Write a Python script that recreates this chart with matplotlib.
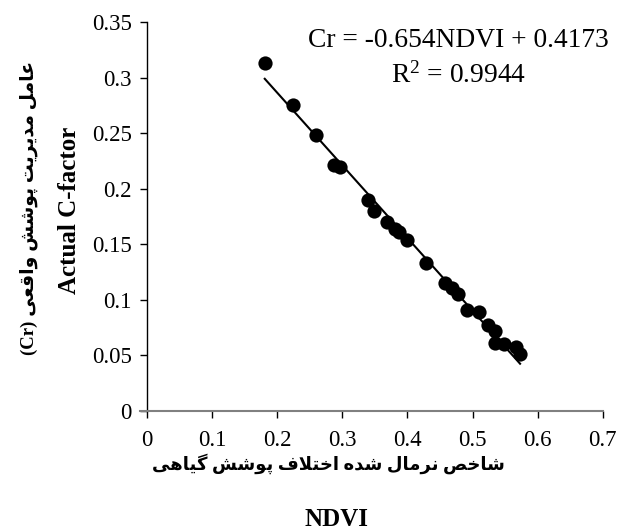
import matplotlib
matplotlib.use("Agg")
import matplotlib.pyplot as plt

# NDVI vs actual C-factor
ndvi = [0.181, 0.224, 0.260, 0.288, 0.297, 0.340, 0.349, 0.368, 0.381, 0.387,
        0.400, 0.428, 0.458, 0.468, 0.477, 0.492, 0.510, 0.524, 0.534, 0.535,
        0.548, 0.566, 0.573]
cr = [0.313, 0.275, 0.248, 0.221, 0.220, 0.190, 0.180, 0.170, 0.164, 0.161,
      0.154, 0.133, 0.115, 0.111, 0.105, 0.091, 0.089, 0.077, 0.072, 0.061,
      0.060, 0.058, 0.051]
slope = -0.654
intercept = 0.4173
r2 = 0.9944

x_ticks = [0, 0.1, 0.2, 0.3, 0.4, 0.5, 0.6, 0.7]
y_ticks = [0, 0.05, 0.1, 0.15, 0.2, 0.25, 0.3, 0.35]

# minimal Persian shaping (matplotlib does not shape Arabic script)
FORMS = {
    'ا': ('\uFE8D', '\uFE8E', None, None),
    'پ': ('\uFB56', '\uFB57', '\uFB58', '\uFB59'),
    'ت': ('\uFE95', '\uFE96', '\uFE97', '\uFE98'),
    'خ': ('\uFEA5', '\uFEA6', '\uFEA7', '\uFEA8'),
    'د': ('\uFEA9', '\uFEAA', None, None),
    'ر': ('\uFEAD', '\uFEAE', None, None),
    'ش': ('\uFEB5', '\uFEB6', '\uFEB7', '\uFEB8'),
    'ص': ('\uFEB9', '\uFEBA', '\uFEBB', '\uFEBC'),
    'ع': ('\uFEC9', '\uFECA', '\uFECB', '\uFECC'),
    'ف': ('\uFED1', '\uFED2', '\uFED3', '\uFED4'),
    'ق': ('\uFED5', '\uFED6', '\uFED7', '\uFED8'),
    'گ': ('\uFB92', '\uFB93', '\uFB94', '\uFB95'),
    'ل': ('\uFEDD', '\uFEDE', '\uFEDF', '\uFEE0'),
    'م': ('\uFEE1', '\uFEE2', '\uFEE3', '\uFEE4'),
    'ن': ('\uFEE5', '\uFEE6', '\uFEE7', '\uFEE8'),
    'ه': ('\uFEE9', '\uFEEA', '\uFEEB', '\uFEEC'),
    'و': ('\uFEED', '\uFEEE', None, None),
    'ی': ('\uFBFC', '\uFBFD', '\uFBFE', '\uFBFF'),
}


def rtl(text):
    out = []
    i = 0
    prev_joins = False
    while i < len(text):
        ch = text[i]
        if ch not in FORMS:
            out.append(ch)
            prev_joins = False
            i += 1
            continue
        if ch == 'ل' and i + 1 < len(text) and text[i + 1] == 'ا':
            out.append('\uFEFC' if prev_joins else '\uFEFB')
            prev_joins = False
            i += 2
            continue
        nxt = text[i + 1] if i + 1 < len(text) else ''
        can_next = FORMS[ch][2] is not None and nxt in FORMS
        iso, fin, ini, med = FORMS[ch]
        if prev_joins and can_next:
            out.append(med)
        elif prev_joins:
            out.append(fin)
        elif can_next:
            out.append(ini)
        else:
            out.append(iso)
        prev_joins = can_next
        i += 1
    return ''.join(reversed(out))


y_fa = rtl('عامل مدیریت پوشش واقعی')
x_fa = rtl('شاخص نرمال شده اختلاف پوشش گیاهی')

plt.rcParams['mathtext.fontset'] = 'custom'
plt.rcParams['mathtext.rm'] = 'Liberation Serif'
plt.rcParams['mathtext.it'] = 'Liberation Serif:italic'
plt.rcParams['mathtext.bf'] = 'Liberation Serif:bold'

serif = ['Liberation Serif', 'DejaVu Sans']

fig = plt.figure(figsize=(6.17, 5.32), dpi=100)
ax = fig.add_axes([0.238, 0.2274, 0.739, 0.7312])

ax.scatter(ndvi, cr, s=105, color='black', zorder=3, linewidths=0)
x0, x1 = min(ndvi), max(ndvi)
ax.plot([x0, x1], [slope * x0 + intercept, slope * x1 + intercept],
        color='black', lw=1.5, zorder=2)

ax.set_xlim(0, 0.7)
ax.set_ylim(0, 0.35)
ax.set_xticks(x_ticks)
ax.set_yticks(y_ticks)
ax.set_xticklabels([f'{v:g}' for v in x_ticks], family=serif, fontsize=16.5)
ax.set_yticklabels([f'{v:g}' for v in y_ticks], family=serif, fontsize=16.5)
ax.tick_params(direction='out', length=5, width=1, color='black')
ax.tick_params(axis='x', pad=9)
ax.tick_params(axis='y', pad=6)

for side in ['top', 'right']:
    ax.spines[side].set_visible(False)
ax.spines['left'].set_color('black')
ax.spines['left'].set_linewidth(1)
ax.spines['bottom'].set_color('#808080')
ax.spines['bottom'].set_linewidth(1.5)
ax.spines['bottom'].set_bounds(-0.011, 0.7)

ax.text(0.479, 0.333, f'Cr = {slope:g}NDVI + {intercept:g}', ha='center', va='center',
        family=serif, fontsize=19.8)
ax.text(0.479, 0.302, r'R$^{\mathrm{2}}$' + f' = {r2:g}', ha='center', va='center',
        family=serif, fontsize=19.8)

# y axis labels (Persian line + English line)
fig.text(0.046, 0.61, '(Cr) ' + y_fa, rotation=90, ha='center', va='center',
         family=serif, fontsize=13.5, fontweight='bold')
fig.text(0.113, 0.605, 'Actual C-factor', rotation=90, ha='center', va='center',
         family=serif, fontsize=18, fontweight='bold')

# x axis labels
fig.text(0.533, 0.128, x_fa, ha='center', va='center',
         family=serif, fontsize=13, fontweight='bold')
fig.text(0.546, 0.0226, 'NDVI', ha='center', va='center',
         family=serif, fontsize=18, fontweight='bold')

fig.savefig('out.png', dpi=100)
